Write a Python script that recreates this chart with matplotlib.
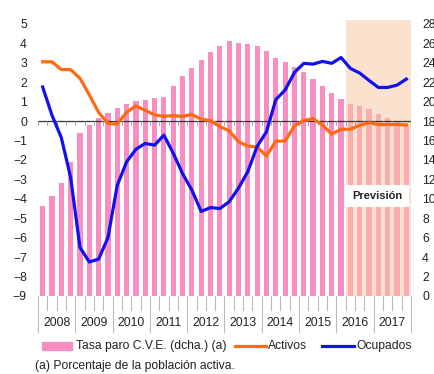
import matplotlib
matplotlib.use("Agg")
import matplotlib.pyplot as plt
from matplotlib.lines import Line2D
from matplotlib.patches import Rectangle
import matplotlib.transforms as mtransforms
import numpy as np

plt.rcParams['font.family'] = ['Liberation Sans', 'DejaVu Sans']

years = ['2008', '2009', '2010', '2011', '2012', '2013', '2014', '2015', '2016', '2017']

# Unemployment rate, seasonally adjusted (% of labour force), quarterly
tasa_paro = [9.3, 10.3, 11.6, 13.8,
             16.8, 17.6, 18.3, 18.8,
             19.3, 19.8, 20.1, 20.2,
             20.4, 20.5, 21.6, 22.6,
             23.5, 24.3, 25.1, 25.7,
             26.2, 26.0, 25.9, 25.7,
             25.2, 24.5, 24.1, 23.6,
             23.0, 22.3, 21.6, 20.9,
             20.3, 19.8, 19.5, 19.2,
             18.7, 18.3, 18.0, 17.5]

# Year-on-year change (%)
activos = [3.05, 3.05, 2.65, 2.65,
           2.2, 1.35, 0.45, -0.12,
           -0.15, 0.45, 0.78, 0.55,
           0.32, 0.24, 0.28, 0.24,
           0.34, 0.1, 0.02, -0.28,
           -0.5, -1.06, -1.29, -1.33,
           -1.8, -1.03, -1.03, -0.24,
           0.02, 0.13, -0.2, -0.67,
           -0.42, -0.42, -0.22, -0.08,
           -0.18, -0.18, -0.18, -0.2]

ocupados = [1.75, 0.3, -0.85, -2.9,
            -6.5, -7.25, -7.1, -6.0,
            -3.3, -2.1, -1.45, -1.15,
            -1.24, -0.72, -1.65, -2.7,
            -3.55, -4.65, -4.45, -4.5,
            -4.15, -3.45, -2.6, -1.3,
            -0.55, 1.1, 1.6, 2.5,
            2.97, 2.93, 3.07, 2.97,
            3.27, 2.71, 2.47, 2.09,
            1.73, 1.73, 1.85, 2.16]

forecast_start = 33  # first forecast quarter (2016 Q2)

W, H = 435, 374
fig = plt.figure(figsize=(W / 100, H / 100), dpi=100)
fig.patch.set_facecolor('white')

left, right, top, bottom = 38, 411, 20, 296
rect = [left / W, 1 - bottom / H, (right - left) / W, (bottom - top) / H]

# Bars on the right-hand scale
axb = fig.add_axes(rect)
axl = axb.twinx()

n = len(tasa_paro)
x = np.arange(n)
pink = '#F78DC1'
axb.bar(x, tasa_paro, width=0.56, color=pink, zorder=2)
axb.set_xlim(-0.5, n - 0.5)
axb.set_ylim(0, 28.4)
axb.axvspan(forecast_start - 0.5, n - 0.5, color='#F8CBA8', alpha=0.55,
            zorder=3, lw=0)
axb.yaxis.tick_right()
axb.yaxis.set_label_position('right')
axb.set_yticks(np.arange(0, 29, 2))
axb.tick_params(axis='y', length=0, pad=8, labelsize=8.7, colors='#222222')
axb.set_xticks([])
for s in axb.spines.values():
    s.set_visible(False)

# Lines on the left-hand scale
axl.set_xlim(-0.5, n - 0.5)
axl.set_ylim(-9, 5.2)
axl.yaxis.tick_left()
axl.yaxis.set_label_position('left')
axl.set_yticks(np.arange(-9, 6, 1))
axl.tick_params(axis='y', length=0, pad=8, labelsize=8.7, colors='#222222')
axl.set_xticks([])
for s in axl.spines.values():
    s.set_visible(False)

axl.axhline(0, color='#333333', lw=0.9, zorder=4)
for b in np.arange(-0.5, n, 1):
    axl.plot([b, b], [0, -0.18], color='#999999', lw=0.6, zorder=4)

orange = '#FF6A10'
blue = '#1010F0'
axl.plot(x, activos, color=orange, lw=2.3, zorder=5, solid_joinstyle='round')
axl.plot(x, ocupados, color=blue, lw=2.3, zorder=6, solid_joinstyle='round')

# Forecast label box
axl.text((forecast_start - 0.5 + n - 0.5) / 2 - 0.1, -3.85, 'Previsión',
         ha='center', va='center', fontsize=8, fontweight='bold', color='#222222',
         zorder=7,
         bbox=dict(boxstyle='square,pad=0.55', fc='white', ec='none'))

# Quarter ticks and year separators below the plot
trans = mtransforms.blended_transform_factory(axl.transData, axl.transAxes)
short = -(310 - bottom) / (bottom - top)
longl = -(332 - bottom) / (bottom - top)
for q in range(n + 1):
    b = q - 0.5
    y_end = longl if q % 4 == 0 else short
    axl.add_line(Line2D([b, b], [0, y_end], transform=trans, color='#BBBBBB',
                        lw=0.8, clip_on=False))
label_y = -(323 - bottom) / (bottom - top)
for i, yr in enumerate(years):
    axl.text(i * 4 + 1.5, label_y, yr, transform=trans, ha='center', va='center',
             fontsize=8.7, color='#222222')

# Legend drawn in figure pixels
def fx(px):
    return px / W

def fy(py):
    return 1 - py / H

ly = 346
fig.add_artist(Rectangle((fx(42), fy(ly + 4)), fx(30), 8 / H, color=pink,
                         transform=fig.transFigure))
fig.text(fx(76), fy(ly), 'Tasa paro C.V.E. (dcha.) (a)', fontsize=8.7,
         va='center', ha='left', color='#222222')
fig.add_artist(Line2D([fx(235), fx(266)], [fy(ly), fy(ly)], color=orange, lw=2.3,
                      transform=fig.transFigure))
fig.text(fx(268), fy(ly), 'Activos', fontsize=8.7, va='center', ha='left',
         color='#222222')
fig.add_artist(Line2D([fx(322), fx(354)], [fy(ly), fy(ly)], color=blue, lw=2.3,
                      transform=fig.transFigure))
fig.text(fx(356), fy(ly), 'Ocupados', fontsize=8.7, va='center', ha='left',
         color='#222222')

fig.text(fx(35), fy(366), '(a) Porcentaje de la población activa.', fontsize=8.7,
         va='center', ha='left', color='#222222')

fig.savefig('out.png', dpi=100, facecolor='white')
